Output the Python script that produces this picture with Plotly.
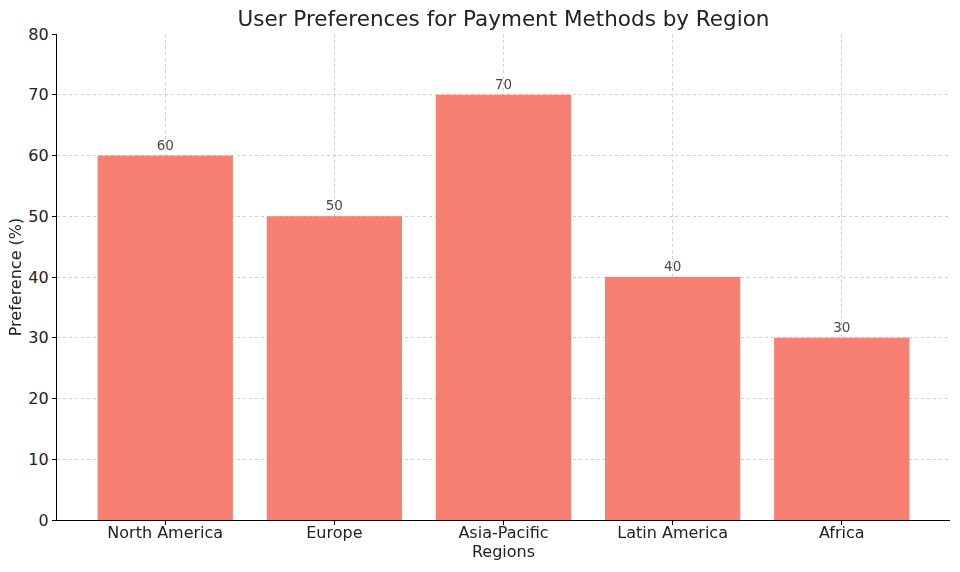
import plotly.graph_objects as go

regions = ["North America", "Europe", "Asia-Pacific", "Latin America", "Africa"]
preferences = [60, 50, 70, 40, 30]
y_ticks = [0, 10, 20, 30, 40, 50, 60, 70, 80]

fig = go.Figure()
fig.add_trace(go.Bar(
    x=list(range(len(regions))),
    y=preferences,
    width=0.8,
    marker=dict(color="#F87262", line=dict(width=0)),
    opacity=0.9,
    text=[str(v) for v in preferences],
    textposition="outside",
    textfont=dict(size=13.5, color="#333333"),
    cliponaxis=False,
))

font = "DejaVu Sans, sans-serif"
fig.update_layout(
    width=960, height=572,
    margin=dict(l=57, r=10, t=34, b=52),
    paper_bgcolor="white", plot_bgcolor="white",
    font=dict(family=font, color="#222222"),
    title=dict(text="User Preferences for Payment Methods by Region",
               xref="paper", x=0.5, xanchor="center", y=0.967, yanchor="middle",
               font=dict(size=21.5, color="#222222")),
    showlegend=False,
    bargap=0.2,
)
fig.update_xaxes(
    range=[-0.64, 4.64],
    tickmode="array", tickvals=list(range(len(regions))), ticktext=regions,
    tickfont=dict(size=16),
    title=dict(text="Regions", font=dict(size=16), standoff=2),
    showline=True, linecolor="black", linewidth=1.2,
    ticks="outside", ticklen=4, tickcolor="black",
    ticklabelstandoff=-6,
    showgrid=True, gridcolor="#cfcfcf", griddash="3px,3px", gridwidth=0.8,
    zeroline=False, layer="above traces",
)
fig.update_yaxes(
    range=[0, 80],
    tickmode="array", tickvals=y_ticks,
    tickfont=dict(size=16),
    title=dict(text="Preference (%)", font=dict(size=16), standoff=2),
    showline=True, linecolor="black", linewidth=1.2,
    ticks="outside", ticklen=4, tickcolor="black",
    showgrid=True, gridcolor="#cfcfcf", griddash="3px,3px", gridwidth=0.8,
    zeroline=False, layer="above traces",
)
fig.write_html("out.html")
